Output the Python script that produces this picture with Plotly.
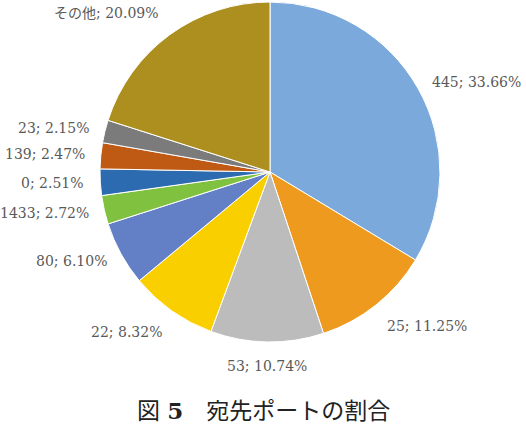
import math
import plotly.graph_objects as go

ports = ["445", "25", "53", "22", "80", "1433", "0", "139", "23", "その他"]
shares = [33.66, 11.25, 10.74, 8.32, 6.10, 2.72, 2.51, 2.47, 2.15, 20.09]
colors = ["#7BA9DC", "#EE9A1F", "#BCBCBC", "#FACF00", "#6380C6",
          "#80C140", "#2C6BAF", "#BF5A15", "#7B7B7B", "#AC8F1E"]
caption = "図 <b>5</b>　宛先ポートの割合"

W, H = 526, 428
cx, cy, R = 270, 172, 170

fig = go.Figure(go.Pie(
    labels=ports, values=shares, sort=False, direction="clockwise", rotation=0,
    marker=dict(colors=colors, line=dict(color="white", width=1)),
    textinfo="none", hoverinfo="label+percent", showlegend=False,
    domain=dict(x=[(cx - R) / W, (cx + R) / W], y=[1 - (cy + R) / H, 1 - (cy - R) / H]),
))

total = sum(shares)
cum = 0.0
label_font = dict(family="DejaVu Serif, Noto Sans CJK JP", size=14, color="#595959")
for lab, v in zip(ports, shares):
    mid = (cum + v / 2) / total * 2 * math.pi
    cum += v
    dx, dy = math.sin(mid), -math.cos(mid)  # screen coords, dy positive down
    r = R + 14
    px = cx + r * dx
    py = cy + r * dy
    xa = "left" if dx > 0.3 else ("right" if dx < -0.3 else "center")
    ya = "top" if dy > 0.5 else ("bottom" if dy < -0.5 else "middle")
    fig.add_annotation(x=px / W, y=1 - py / H, xref="paper", yref="paper",
                       text=f"{lab}; {v:.2f}%", showarrow=False,
                       xanchor=xa, yanchor=ya, font=label_font)

fig.add_annotation(x=263 / W, y=1 - 410 / H, xref="paper", yref="paper",
                   text=caption, showarrow=False, xanchor="center", yanchor="middle",
                   font=dict(family="DejaVu Serif, Noto Sans CJK JP", size=23, color="#222222"))

fig.update_layout(width=W, height=H, margin=dict(l=0, r=0, t=0, b=0),
                  paper_bgcolor="white", plot_bgcolor="white")
fig.write_html("out.html")
